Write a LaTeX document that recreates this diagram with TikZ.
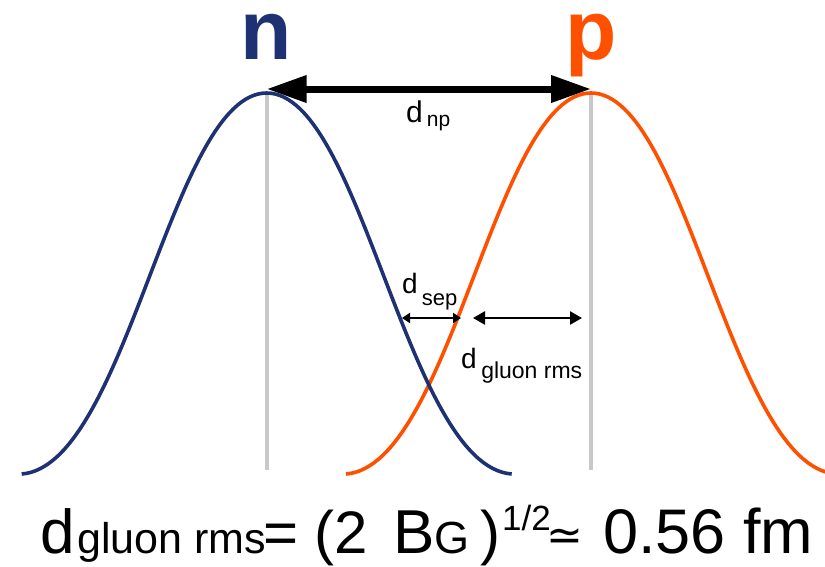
\documentclass[tikz,border=0pt]{standalone}
\usepackage{fontspec}
\setmainfont{Liberation Sans}
\newfontfamily\djv{DejaVu Sans}
\usetikzlibrary{arrows.meta}
\definecolor{navy}{RGB}{30,50,115}
\definecolor{orng}{RGB}{255,80,0}
\definecolor{lgray}{RGB}{200,200,200}
\newcommand{\fs}[1]{\fontsize{#1}{#1}\selectfont}
\tikzset{
  curve/.style={line width=3.6pt},
  axisline/.style={draw=lgray, line width=4.2pt},
  bigarrow/.style={line width=7pt, {Triangle[length=40pt,width=26pt]}-{Triangle[length=40pt,width=26pt]}},
  sepArrow/.style={line width=2pt, {Triangle[length=8pt,width=10pt]}-{Triangle[length=8pt,width=10pt]}},
  glArrow/.style={line width=2.6pt, {Triangle[length=12pt,width=13pt]}-{Triangle[length=12pt,width=13pt]}},
  txt/.style={inner sep=0pt, anchor=base west},
  biglab/.style={txt, text height=45pt, text depth=16pt},
}
\begin{document}
\begin{tikzpicture}[x=1pt,y=-1pt]
\useasboundingbox (0,0) rectangle (825,566);
\clip (0,0) rectangle (825,566);
% peak and base coordinates
\coordinate (nTop) at (266.7,93);
\coordinate (pTop) at (591,93);
\coordinate (nBase) at (266.7,470);
\coordinate (pBase) at (591,470);
% gray centre lines
\draw[axisline] (nTop) -- (nBase);
\draw[axisline] (pTop) -- (pBase);
% proton curve
\draw[curve, orng] (346,474) .. controls (451,466) and (496,93) .. (pTop)
  .. controls (686,93) and (731,466) .. (836,474);
% neutron curve
\draw[curve, navy] (21.7,474) .. controls (126.7,466) and (171.7,93) .. (nTop)
  .. controls (361.7,93) and (406.7,466) .. (511.7,474);
% labels n, p
\node[biglab, text=navy] (nlab) at (240,59) {\fs{84}\bfseries n};
\node[biglab, text=orng] (plab) at (565,59) {\fs{84}\bfseries p};
% d_np arrow
\coordinate (npL) at (266.7,89);
\coordinate (npR) at (591,89);
\draw[bigarrow] (npL) -- (npR);
\node[txt] (dnp) at (406,122) {\fs{30}d\hspace{4pt}{\fs{21}\raisebox{-4.5pt}{np}}};
% d_sep arrow
\coordinate (sepL) at (402,318);
\coordinate (sepR) at (461,318);
\draw[sepArrow] (sepL) -- (sepR);
\node[txt] (dsep) at (402,293) {\fs{28}d\hspace{4pt}{\fs{22}\raisebox{-12.5pt}{sep}}};
% d_gluon rms arrow
\coordinate (glL) at (473,318);
\coordinate (glR) at (582,318);
\draw[glArrow] (glL) -- (glR);
\node[txt] (dgl) at (461,368) {\fs{28}d\hspace{4.5pt}{\fs{23}\raisebox{-10pt}{gluon rms}}};
% formula
\node[txt] (f1) at (40,553) {\fs{62}d};
\node[txt] (f2) at (77,553) {\fs{43}gluon rms};
\node[txt] (f3) at (263,553) {\fs{60}=};
\node[txt] (f4) at (314,553) {\fs{60}(2};
\node[txt] (f5) at (393,553) {\fs{62}B};
\node[txt] (f6) at (434,553) {\fs{45}G};
\node[txt] (f7) at (480,553) {\fs{60})};
\node[txt] (f8) at (502,530) {\fs{35}1/2};
\node[txt] (f9) at (546,550) {\djv\fs{44}≃};
\node[txt] (f10) at (603,553) {\fs{63}0.56 fm};
\end{tikzpicture}
\end{document}
